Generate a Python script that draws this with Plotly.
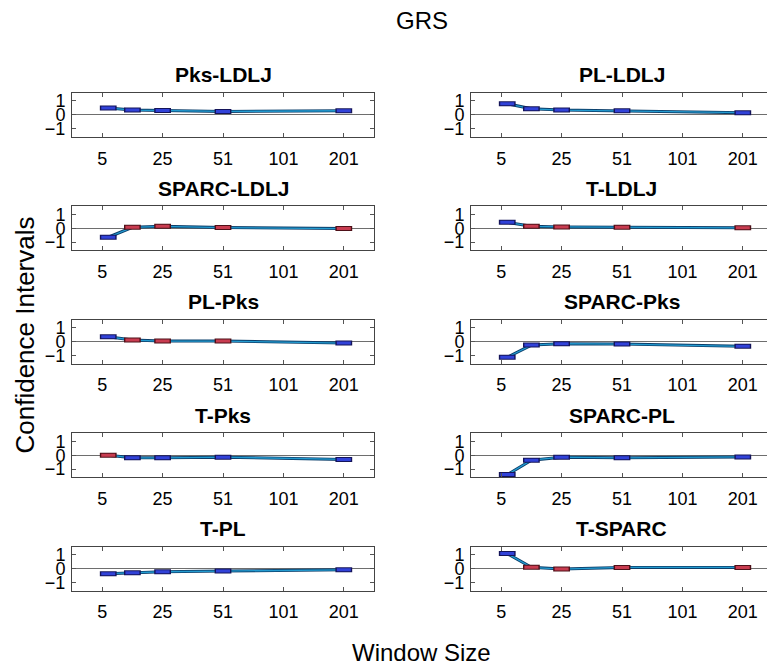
import plotly.graph_objects as go
from plotly.subplots import make_subplots

# window sizes shown on the x axis (ticks sit at index 1..5)
window_ticks = ["5", "25", "51", "101", "201"]
# x position of each estimate on that index axis
window_x = [1.1, 1.5, 2, 3, 5]

pairs = ["Pks-LDLJ", "PL-LDLJ", "SPARC-LDLJ", "T-LDLJ", "PL-Pks",
         "SPARC-Pks", "T-Pks", "SPARC-PL", "T-PL", "T-SPARC"]

# estimates per pair
pks_ldlj = [0.49, 0.34, 0.31, 0.24, 0.29]
pl_ldlj = [0.80, 0.43, 0.34, 0.29, 0.15]
sparc_ldlj = [-0.65, 0.07, 0.14, 0.05, -0.02]
t_ldlj = [0.43, 0.14, 0.10, 0.07, 0.03]
pl_pks = [0.36, 0.12, 0.05, 0.05, -0.10]
sparc_pks = [-1.12, -0.24, -0.14, -0.17, -0.33]
t_pks = [0.00, -0.19, -0.19, -0.14, -0.30]
sparc_pl = [-1.40, -0.36, -0.14, -0.19, -0.12]
t_pl = [-0.36, -0.29, -0.22, -0.17, -0.08]
t_sparc = [1.09, 0.10, -0.03, 0.09, 0.09]

# 1 = red box (interval crosses zero), 0 = blue box
ns_pks_ldlj = [0, 0, 0, 0, 0]
ns_pl_ldlj = [0, 0, 0, 0, 0]
ns_sparc_ldlj = [0, 1, 1, 1, 1]
ns_t_ldlj = [0, 1, 1, 1, 1]
ns_pl_pks = [0, 1, 1, 1, 0]
ns_sparc_pks = [0, 0, 0, 0, 0]
ns_t_pks = [1, 0, 0, 0, 0]
ns_sparc_pl = [0, 0, 0, 0, 0]
ns_t_pl = [0, 0, 0, 0, 0]
ns_t_sparc = [0, 1, 1, 1, 1]

values = [pks_ldlj, pl_ldlj, sparc_ldlj, t_ldlj, pl_pks,
          sparc_pks, t_pks, sparc_pl, t_pl, t_sparc]
flags = [ns_pks_ldlj, ns_pl_ldlj, ns_sparc_ldlj, ns_t_ldlj, ns_pl_pks,
         ns_sparc_pks, ns_t_pks, ns_sparc_pl, ns_t_pl, ns_t_sparc]

# page body adds an 8px margin, so lay out in window pixels minus that
OFF = 8
W, H = 775 - OFF, 672 - OFF


def px_x(v):
    return (v - OFF) / W


def px_y(v):
    return 1 - (v - OFF) / H


col_left = [72, 471]
col_width = 302
row_top = [92, 206, 320, 434, 548]
row_height = 44.5

fill = {0: "#3142d8", 1: "#c83c50"}
edge = {0: "#14145a", 1: "#4e1018"}

fig = make_subplots(rows=5, cols=2)
annotations = []

for i, name in enumerate(pairs):
    r, c = i // 2, i % 2
    ys = values[i]
    fl = flags[i]

    # connecting line: dark body with lighter core
    fig.add_trace(go.Scatter(x=window_x, y=ys, mode="lines",
                             line=dict(color="#0b3e6a", width=3),
                             hoverinfo="skip", showlegend=False),
                  row=r + 1, col=c + 1)
    fig.add_trace(go.Scatter(x=window_x, y=ys, mode="lines",
                             line=dict(color="#239bd0", width=1.3),
                             hoverinfo="skip", showlegend=False),
                  row=r + 1, col=c + 1)
    # boxes: outline then fill
    fig.add_trace(go.Scatter(x=window_x, y=ys, mode="markers",
                             marker=dict(symbol="line-ew", size=12,
                                         line=dict(width=5, color=[edge[f] for f in fl])),
                             showlegend=False),
                  row=r + 1, col=c + 1)
    fig.add_trace(go.Scatter(x=window_x, y=ys, mode="markers",
                             marker=dict(symbol="line-ew", size=10,
                                         line=dict(width=3, color=[fill[f] for f in fl])),
                             showlegend=False),
                  row=r + 1, col=c + 1)

    x0 = px_x(col_left[c])
    x1 = px_x(col_left[c] + col_width)
    y1 = px_y(row_top[r])
    y0 = px_y(row_top[r] + row_height)
    ax = "" if i == 0 else str(i + 1)
    fig.layout["xaxis" + ax].update(
        domain=[x0, x1], range=[0.5, 5.5],
        tickvals=[1, 2, 3, 4, 5], ticktext=window_ticks,
        ticks="inside", ticklen=4, tickcolor="#555555",
        showline=True, linecolor="#444444", linewidth=1, mirror="ticks",
        showgrid=False, zeroline=False, ticklabelstandoff=5,
        tickfont=dict(size=18, color="black"))
    fig.layout["yaxis" + ax].update(
        domain=[y0, y1], range=[-1.6, 1.6],
        tickvals=[-1, 0, 1],
        ticks="inside", ticklen=4, tickcolor="#555555",
        showline=True, linecolor="#444444", linewidth=1, mirror="ticks",
        showgrid=False, zeroline=True, zerolinecolor="#6e6e6e", zerolinewidth=1,
        ticklabelstandoff=2,
        tickfont=dict(size=18, color="black"))

    annotations.append(dict(text="<b>" + name + "</b>", x=(x0 + x1) / 2,
                            y=px_y(row_top[r] - 18), xref="paper", yref="paper",
                            xanchor="center", yanchor="middle", showarrow=False,
                            font=dict(size=21, color="black")))

annotations.append(dict(text="GRS", x=px_x(422), y=px_y(20), xref="paper", yref="paper",
                        xanchor="center", yanchor="middle", showarrow=False,
                        font=dict(size=24, color="black")))
annotations.append(dict(text="Window Size", x=px_x(422), y=px_y(654), xref="paper", yref="paper",
                        xanchor="center", yanchor="middle", showarrow=False,
                        font=dict(size=24, color="black")))
annotations.append(dict(text="Confidence Intervals", x=px_x(25), y=px_y(336),
                        xref="paper", yref="paper", textangle=-90,
                        xanchor="center", yanchor="middle", showarrow=False,
                        font=dict(size=26, color="black")))

fig.update_layout(width=W, height=H, margin=dict(l=0, r=0, t=0, b=0),
                  paper_bgcolor="white", plot_bgcolor="white",
                  font=dict(family="Arial, Liberation Sans, sans-serif"),
                  annotations=annotations, showlegend=False)

fig.write_html("out.html")
